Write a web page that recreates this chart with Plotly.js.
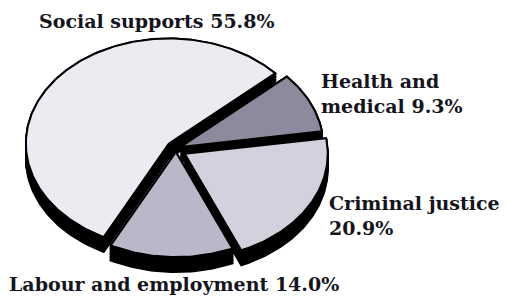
<!DOCTYPE html>
<html>
<head>
<meta charset="utf-8">
<script src="https://cdn.plot.ly/plotly-3.0.1.min.js"></script>
<style>html,body{margin:0;padding:0;background:#fff;}#chart{width:508px;height:299px;}</style>
</head>
<body>
<div id="chart"></div>
<script>
// Data (clockwise order starting from the upper-right edge of "Social supports")
const categories = ['Health and medical', 'Criminal justice', 'Labour and employment', 'Social supports'];
const shares = [9.3, 20.9, 14.0, 55.8];
const labelLines = [['Health and', 'medical'], ['Criminal justice', ''], ['Labour and employment'], ['Social supports']];
const faceColors = ['#8c8a9c', '#d3d1dd', '#b9b7c8', '#ecebf2'];

// Geometry of the tilted pie (pixel units on the hidden axes)
const base = {x: 176, y: 149};
const rx = 143, ry = 105, depth = 16;
const startDeg = 42;
const pulls = [5, 10, 3, 9];

const total = shares.reduce((a, b) => a + b, 0);
const slices = [];
let a = startDeg;
shares.forEach((v, i) => {
  const span = 360 * v / total;
  const a0 = a, a1 = a - span;
  const mid = (a0 + a1) / 2 * Math.PI / 180;
  const cx = base.x + pulls[i] * Math.cos(mid);
  const cy = base.y - pulls[i] * Math.sin(mid);
  const px = [cx], py = [cy];
  const n = Math.max(8, Math.round(span));
  for (let k = 0; k <= n; k++) {
    const t = (a0 + (a1 - a0) * k / n) * Math.PI / 180;
    px.push(cx + rx * Math.cos(t));
    py.push(cy - ry * Math.sin(t));
  }
  px.push(cx); py.push(cy);
  slices.push({px, py, i, mid});
  a = a1;
});

// draw back-to-front
const order = slices.slice().sort((s, t) => Math.sin(t.mid) - Math.sin(s.mid));
const traces = [];
order.forEach(s => {
  const ex = [], ey = [];
  for (let d = 0; d <= depth; d += 1.5) {
    s.px.forEach((x, k) => { ex.push(x); ey.push(s.py[k] + d); });
    ex.push(null); ey.push(null);
  }
  traces.push({type: 'scatter', mode: 'lines', x: ex, y: ey, fill: 'toself', fillcolor: '#000',
    line: {color: '#000', width: 2}, hoverinfo: 'skip', showlegend: false});
  traces.push({type: 'scatter', mode: 'lines', x: s.px, y: s.py, fill: 'toself', fillcolor: faceColors[s.i],
    line: {color: '#000', width: 2}, name: categories[s.i], hoverinfo: 'name', showlegend: false});
});

function labelText(i) {
  const lines = labelLines[i].slice();
  const pct = shares[i].toFixed(1) + '%';
  if (lines[lines.length - 1] === '') lines[lines.length - 1] = pct;
  else lines[lines.length - 1] += ' ' + pct;
  return lines.join('<br>');
}
const labelPos = [
  {x: 319, y: 68},
  {x: 327, y: 190},
  {x: 7, y: 271},
  {x: 37, y: 8}
];
const annotations = shares.map((v, i) => ({
  x: labelPos[i].x, y: labelPos[i].y, xref: 'x', yref: 'y', xanchor: 'left', yanchor: 'top',
  text: labelText(i), showarrow: false, align: 'left',
  font: {family: 'DejaVu Serif', size: 19, color: '#15141c', weight: 'bold'}
}));

const layout = {
  width: 508, height: 299, margin: {l: 0, r: 0, t: 0, b: 0},
  paper_bgcolor: '#fff', plot_bgcolor: '#fff',
  xaxis: {range: [0, 508], visible: false, fixedrange: true},
  yaxis: {range: [299, 0], visible: false, fixedrange: true},
  annotations, showlegend: false
};
Plotly.newPlot('chart', traces, layout, {staticPlot: true});
</script>
</body>
</html>
